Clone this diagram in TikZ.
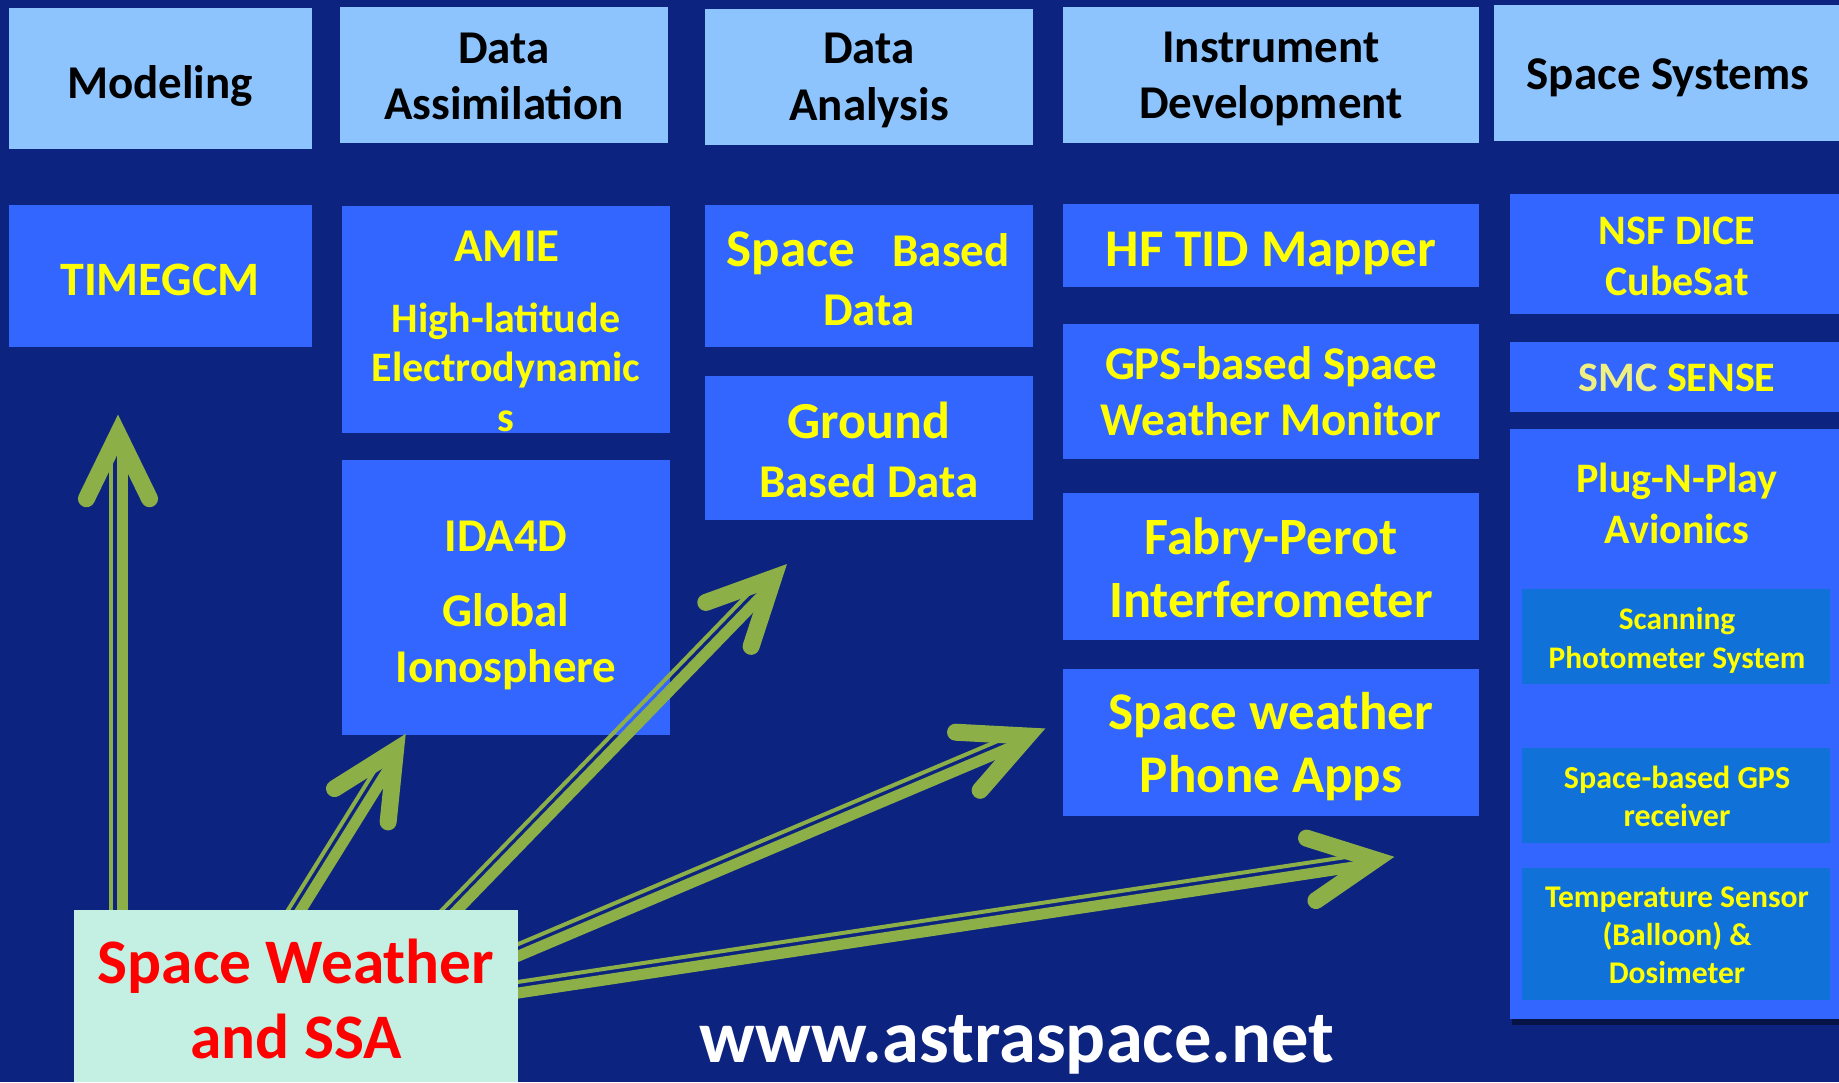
\documentclass[tikz,border=0pt]{standalone}
\usepackage{fontspec}
\setmainfont{Carlito}
\usetikzlibrary{calc,fit,shadows}
\definecolor{bgblue}{RGB}{12,36,128}
\definecolor{hdrblue}{RGB}{141,196,253}
\definecolor{boxblue}{RGB}{51,102,255}
\definecolor{innerblue}{RGB}{16,114,216}
\definecolor{ylw}{RGB}{255,255,0}
\definecolor{paleylw}{RGB}{240,240,130}
\definecolor{mint}{RGB}{195,240,226}
\definecolor{arrgreen}{RGB}{141,175,71}
\tikzset{
  hdrbox/.style={fill=hdrblue, inner sep=0pt},
  blubox/.style={fill=boxblue, inner sep=0pt},
  innbox/.style={fill=innerblue, inner sep=0pt},
  fsz/.style 2 args={font=\bfseries\fontsize{#1}{#2}\selectfont},
  htxt/.style={text=black, align=center, inner sep=0pt},
  ytxt/.style={text=ylw, align=center, inner sep=0pt},
  arrthin/.style={draw=arrgreen, line width=2pt, shorten >=14pt},
  arrthick/.style={draw=arrgreen, line width=5.5pt, shorten >=14pt},
  arrhead/.style={draw=arrgreen, line width=8.5pt, line cap=round, line join=miter},
}
\newcommand{\grarrow}[2]{%
  \coordinate (#2-ap) at ($(#2)!9pt!(#1)$);
  \draw[arrthin] ($(#1)!3.5pt!90:(#2)$) -- ($(#2)!3.5pt!-90:(#1)$);
  \draw[arrthick] ($(#1)!2pt!-90:(#2)$) -- ($(#2)!2pt!90:(#1)$);
  \draw[arrhead] ($(#2-ap)!36pt!26:(#1)$) -- (#2-ap) -- ($(#2-ap)!36pt!-26:(#1)$);
}
\begin{document}
\begin{tikzpicture}[x=0.5pt, y=-0.5pt]
\fill[bgblue] (0,0) rectangle (1839,1082);
\useasboundingbox (0,0) rectangle (1839,1082);

% headers
\node[hdrbox, fit={(9,8) (312,149)}] (hmod) {};
\node[htxt, fsz={23.5}{28}] (hmodt) at (160,86) {Modeling};
\node[hdrbox, fit={(340,7) (668,143)}] (hass) {};
\node[htxt, fsz={23.5}{28}] (hasst) at (504,76) {Data\\Assimilation};
\node[hdrbox, fit={(705,9) (1033,145)}] (hana) {};
\node[htxt, fsz={23.5}{28.5}] (hanat) at (869,80) {Data\\Analysis};
\node[hdrbox, fit={(1063,7) (1479,143)}] (hins) {};
\node[htxt, fsz={23.5}{28}] (hinst) at (1271,79) {Instrument\\Development};
\node[hdrbox, fit={(1494,5) (1839,141)}] (hsys) {};
\node[htxt, fsz={23.5}{28}] (hsyst) at (1668,78) {Space Systems};

% modeling column
\node[blubox, fit={(9,205) (312,347)}] (tim) {};
\node[ytxt, fsz={24}{28}] (timt) at (160,280) {TIMEGCM};

% data assimilation column
\node[blubox, fit={(342,206) (670,433)}] (amie) {};
\node[ytxt, fsz={23.5}{28}] (amiet) at (507,246) {AMIE};
\node[ytxt, fsz={21}{24.75}] (amied) at (506,367) {High-latitude\\Electrodynamic\\s};
\node[blubox, fit={(342,460) (670,735)}] (ida) {};
\node[ytxt, fsz={23.5}{28}] (idat) at (506,536) {IDA4D};
\node[ytxt, fsz={23.5}{28}] (idad) at (506,642) {Global\\Ionosphere};

% data analysis column
\node[blubox, fit={(705,205) (1033,347)}] (sbd) {};
\node[ytxt, fsz={26.5}{30}, anchor=base] (sbd1) at (791,266) {Space};
\node[ytxt, fsz={23.5}{28}, anchor=base] (sbd2) at (951,266) {Based};
\node[ytxt, fsz={23.5}{28}, anchor=base] (sbd3) at (869,325) {Data};
\node[blubox, fit={(705,376) (1033,520)}] (gbd) {};
\node[ytxt, fsz={26}{30}] (gbd1) at (869,420) {Ground};
\node[ytxt, fsz={23.5}{28}] (gbd2) at (869,481) {Based Data};

% instrument development column
\node[blubox, fit={(1063,204) (1479,287)}] (hf) {};
\node[ytxt, fsz={26.5}{30}] (hft) at (1271,253) {HF TID Mapper};
\node[blubox, fit={(1063,324) (1479,459)}] (gps) {};
\node[ytxt, fsz={23.5}{28}] (gpst) at (1271,391) {GPS-based Space\\Weather Monitor};
\node[blubox, fit={(1063,493) (1479,640)}] (fp) {};
\node[ytxt, fsz={26.2}{31.5}] (fpt) at (1271,568) {Fabry-Perot\\Interferometer};
\node[blubox, fit={(1063,669) (1479,816)}] (app) {};
\node[ytxt, fsz={26.5}{31.5}] (appt) at (1271,747) {Space weather\\Phone Apps};

% space systems column
\node[blubox, fit={(1510,194) (1839,314)}] (dice) {};
\node[ytxt, fsz={21}{25.5}] (dicet) at (1677,256) {NSF DICE\\CubeSat};
\node[blubox, fit={(1510,342) (1839,412)}] (smc) {};
\node[ytxt, fsz={21}{25.5}] (smct) at (1677,378) {{\color{paleylw}SMC} SENSE};
\node[blubox, fit={(1510,429) (1839,1019)}, drop shadow={shadow xshift=1pt, shadow yshift=-3pt, opacity=0.45, fill=black}] (pnp) {};
\node[ytxt, fsz={21}{25.5}] (pnpt) at (1677,503) {Plug-N-Play\\Avionics};
\node[innbox, fit={(1522,589) (1830,684)}] (scan) {};
\node[ytxt, fsz={15.7}{19.5}] (scant) at (1677,640) {Scanning\\Photometer System};
\node[innbox, fit={(1522,748) (1830,843)}] (sgps) {};
\node[ytxt, fsz={16}{19}] (sgpst) at (1677,796) {Space-based GPS\\receiver};
\node[innbox, fit={(1522,868) (1830,1000)}] (temp) {};
\node[ytxt, fsz={15.8}{19}] (tempt) at (1677,935) {Temperature Sensor\\(Balloon) \&\\Dosimeter};

% arrows
\coordinate (a1s) at (118,925);
\coordinate (a1e) at (118,416);
\coordinate (a2s) at (290,920);
\coordinate (a2e) at (405,735);
\coordinate (a3s) at (442,920);
\coordinate (a3e) at (786,565);
\coordinate (a4s) at (508,956);
\coordinate (a4e) at (1044,729);
\coordinate (a5s) at (508,990.5);
\coordinate (a5e) at (1393,857);
\grarrow{a1s}{a1e}
\grarrow{a2s}{a2e}
\grarrow{a3s}{a3e}
\grarrow{a4s}{a4e}
\grarrow{a5s}{a5e}

% source box
\node[fill=mint, inner sep=0pt, fit={(74,910) (518,1082)}] (sw) {};
\node[text=red, align=center, inner sep=0pt, fsz={31.7}{37.5}] (swt) at (296,999) {Space Weather\\and SSA};

\node[text=white, inner sep=0pt, fsz={37.3}{44}] (www) at (1017,1045) {www.astraspace.net};
\end{tikzpicture}
\end{document}
